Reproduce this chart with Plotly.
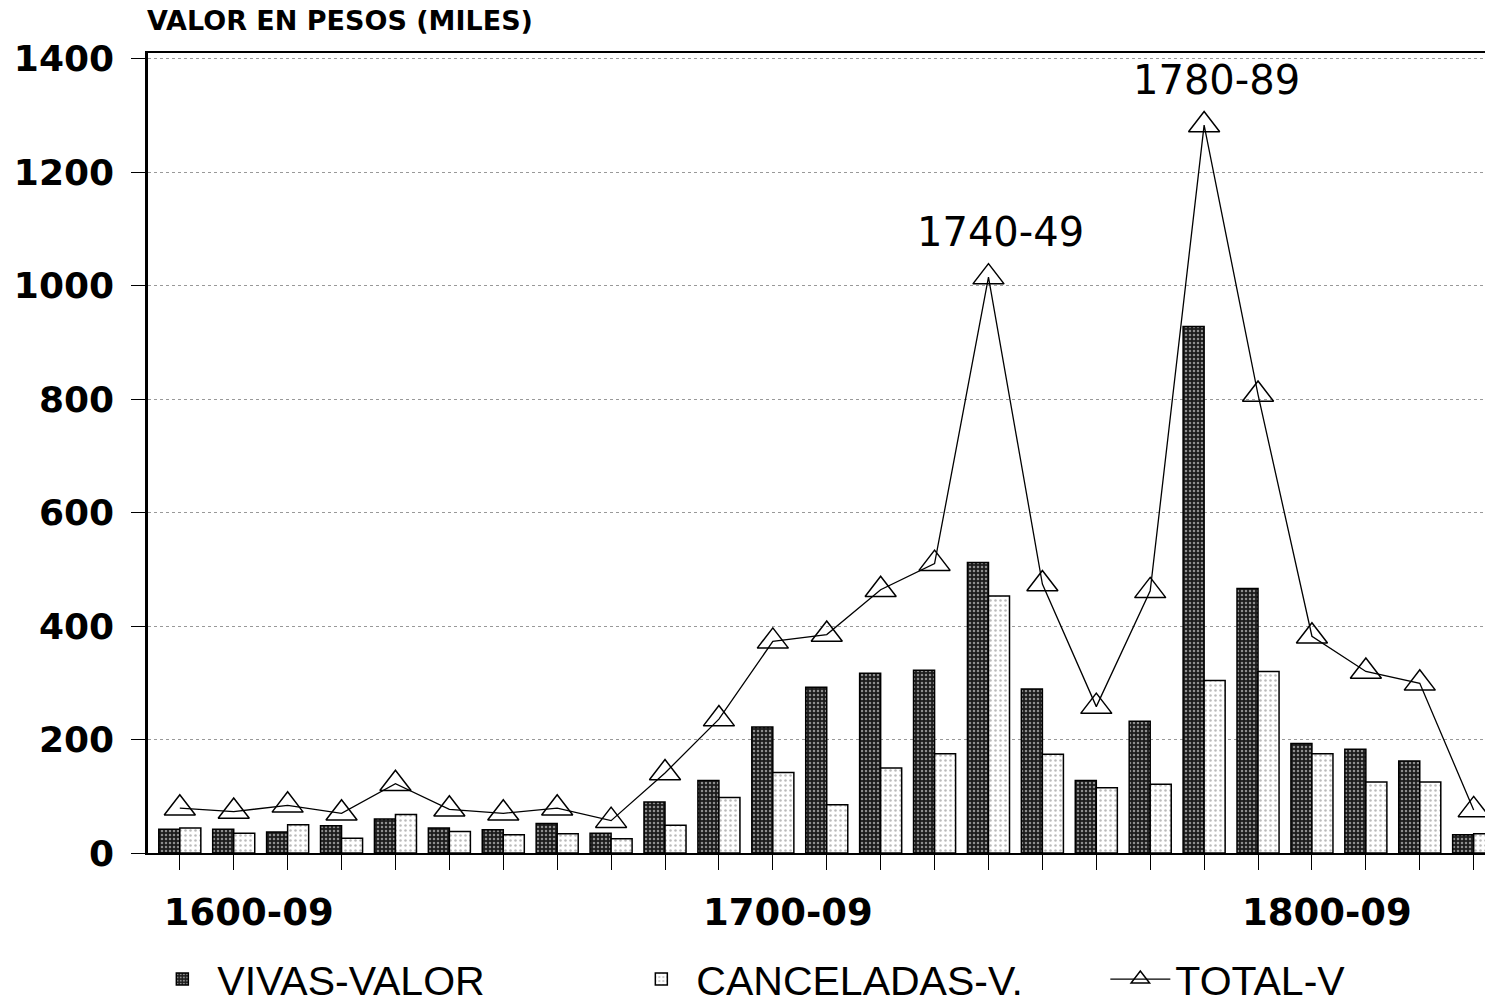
import plotly.graph_objects as go

categories = ["1590-99", "1600-09", "1610-19", "1620-29", "1630-39", "1640-49", "1650-59",
              "1660-69", "1670-79", "1680-89", "1690-99", "1700-09", "1710-19", "1720-29",
              "1730-39", "1740-49", "1750-59", "1760-69", "1770-79", "1780-89", "1790-99",
              "1800-09", "1810-19", "1820-29", "1830-39"]

vivas = [42, 42, 37, 48, 60, 44, 41, 52, 35, 90, 128, 222, 292, 317, 322, 512, 289, 128,
         232, 928, 466, 193, 183, 162, 32]
canceladas = [44, 35, 50, 26, 68, 38, 32, 34, 25, 49, 98, 142, 85, 150, 175, 453, 174, 115,
              121, 304, 320, 175, 125, 125, 34]
total = [79, 73, 84, 70, 122, 77, 70, 79, 57, 141, 236, 373, 385, 464, 510, 1015, 474, 258,
         462, 1283, 808, 382, 320, 299, 76]

tick_labels = {"1600-09": "1600-09", "1700-09": "1700-09", "1800-09": "1800-09"}
peak_labels = ["1740-49", "1780-89"]

fig = go.Figure()
fig.add_trace(go.Bar(
    x=categories, y=vivas, name="VIVAS-VALOR",
    marker=dict(color="#1c1c1c", line=dict(color="black", width=1.5),
                pattern=dict(shape=".", fgcolor="white", bgcolor="#1c1c1c",
                             size=4, solidity=0.3)),
))
fig.add_trace(go.Bar(
    x=categories, y=canceladas, name="CANCELADAS-V.",
    marker=dict(color="white", line=dict(color="black", width=1.5),
                pattern=dict(shape=".", fgcolor="#777", bgcolor="white",
                             size=5, solidity=0.2)),
))
fig.add_trace(go.Scatter(
    x=categories, y=total, name="TOTAL-V", mode="lines+markers",
    line=dict(color="black", width=1.3),
    marker=dict(symbol="triangle-up-open", size=27, color="black",
                line=dict(width=1.5, color="black")),
))

for lab in peak_labels:
    i = categories.index(lab)
    fig.add_annotation(x=lab, y=total[i], text=lab, showarrow=False,
                       yanchor="bottom", yshift=20, xshift=12,
                       font=dict(family="DejaVu Sans", size=40, color="black"))

fig.add_annotation(xref="paper", yref="paper", x=0, y=1, xanchor="left", yanchor="bottom",
                   xshift=-3, yshift=15, text="<b>VALOR EN PESOS (MILES)</b>", showarrow=False,
                   font=dict(family="DejaVu Sans", size=27, color="black"))

fig.update_layout(
    width=1485, height=1008,
    margin=dict(l=148, r=0, t=53, b=155, autoexpand=False),
    paper_bgcolor="white", plot_bgcolor="white",
    barmode="group", bargap=0.22, bargroupgap=0.0,
    showlegend=True,
    legend=dict(orientation="h", x=-0.0005, xanchor="left", y=-0.158, yanchor="middle",
                font=dict(family="Liberation Sans", size=41, color="black"),
                entrywidth=404, entrywidthmode="pixels", itemwidth=60,
                bgcolor="rgba(0,0,0,0)"),
    font=dict(family="DejaVu Sans", color="black"),
)

fig.update_xaxes(
    type="category", range=[-0.59, 24.21],
    tickmode="array", tickvals=categories,
    ticktext=[tick_labels.get(c, "") for c in categories],
    ticks="outside", ticklen=15, tickwidth=1.3, tickcolor="black",
    ticklabelshift=15, ticklabelstandoff=11,
    tickfont=dict(family="DejaVu Sans", size=37, color="black", weight="bold"),
    showline=True, linecolor="black", linewidth=1.5, mirror=True,
    showgrid=False, zeroline=False,
)
fig.update_yaxes(
    range=[0, 1410], tickvals=[0, 200, 400, 600, 800, 1000, 1200, 1400],
    ticks="outside", ticklen=14, tickwidth=1.3, tickcolor="black",
    ticklabelstandoff=10,
    tickfont=dict(family="DejaVu Sans", size=36, color="black", weight="bold"),
    showline=True, linecolor="black", linewidth=2.5,
    showgrid=True, gridcolor="#999", gridwidth=1, griddash="dot",
    zeroline=False,
)

fig.write_html("out.html", config={"displayModeBar": False},
               post_script="document.body.style.margin='0';")
